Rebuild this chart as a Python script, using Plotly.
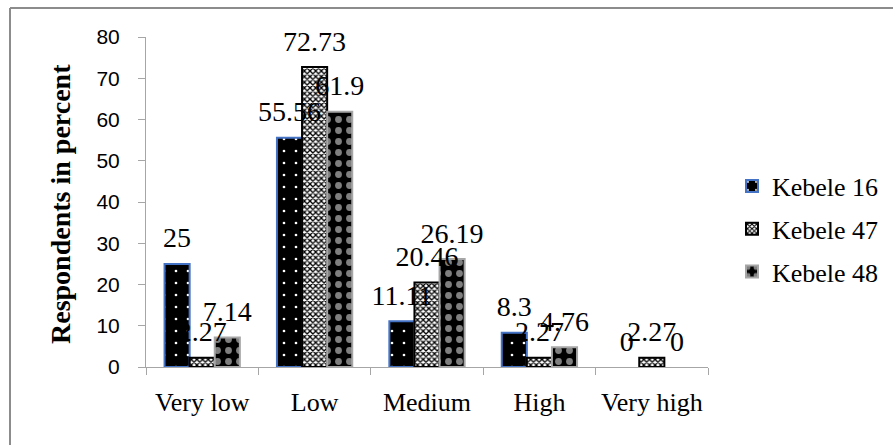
import plotly.graph_objects as go

# Survey categories and the share of respondents (%) in each kebele
categories = ["Very low", "Low", "Medium", "High", "Very high"]
kebele_16 = [25, 55.56, 11.11, 8.3, 0]
kebele_47 = [2.27, 72.73, 20.46, 2.27, 2.27]
kebele_48 = [7.14, 61.9, 26.19, 4.76, 0]
series_names = ["Kebele 16", "Kebele 47", "Kebele 48"]
y_ticks = [0, 10, 20, 30, 40, 50, 60, 70, 80]

SERIF = "Liberation Serif"
SANS = "Liberation Sans"

W, H = 893, 445
L, R, T, B = 146, 185, 37, 78
LABEL_LIFT = 1.8  # gap between bar top and its value label (axis units)

outline_colors = ["#4472c4", "black", "#a6a6a6"]
patterns = [
    dict(shape=".", fgcolor="white", bgcolor="black", size=12, solidity=0.04, fillmode="replace"),
    dict(shape="x", fgcolor="black", bgcolor="white", size=4, solidity=0.55, fillmode="replace"),
    dict(shape=".", fgcolor="#7f7f7f", bgcolor="black", size=11, solidity=0.3, fillmode="replace"),
]
fills = ["black", "white", "black"]
series = [kebele_16, kebele_47, kebele_48]

fig = go.Figure()

for i, (name, vals) in enumerate(zip(series_names, series)):
    fig.add_trace(go.Bar(
        x=categories, y=vals, name=name, offsetgroup=str(i),
        marker=dict(color=fills[i], pattern=patterns[i],
                    line=dict(color=outline_colors[i],
                              width=[2 if v > 0 else 0 for v in vals])),
        cliponaxis=False, legendgroup=name,
    ))

# value labels on top of all bars
for i, (name, vals) in enumerate(zip(series_names, series)):
    fig.add_trace(go.Bar(
        x=categories, y=vals, base=[LABEL_LIFT] * len(vals),
        offsetgroup=str(i), showlegend=False, hoverinfo="skip",
        marker=dict(color="rgba(0,0,0,0)", line=dict(width=0)),
        text=[f"{v:g}" for v in vals],
        textposition="outside", constraintext="none", cliponaxis=False,
        textfont=dict(family=SERIF, size=28, color="black"),
    ))

# y-axis title as rotated bold text
fig.add_annotation(
    text="<b>Respondents in percent</b>", textangle=-90,
    xref="paper", yref="paper", x=(60 - L) / (W - L - R), y=(H - B - 204) / (H - T - B),
    xanchor="center", yanchor="middle", showarrow=False,
    font=dict(family=SERIF, size=28, color="black"),
)

# outer frame (left and top edges visible)
fx = (10 - L) / (W - L - R)
fy = (H - B - 8) / (H - T - B)
fig.add_shape(type="line", xref="paper", yref="paper",
              x0=fx, x1=fx, y0=fy, y1=(H - B - H - 5) / (H - T - B),
              line=dict(color="#8c8c8c", width=2))
fig.add_shape(type="line", xref="paper", yref="paper",
              x0=fx, x1=(W + 5 - L) / (W - L - R), y0=fy, y1=fy,
              line=dict(color="#8c8c8c", width=2))

fig.update_layout(
    width=W, height=H,
    margin=dict(l=L, r=R, t=T, b=B, autoexpand=False),
    paper_bgcolor="white", plot_bgcolor="white",
    barmode="group", bargap=0.33, bargroupgap=0,
    showlegend=True,
    legend=dict(x=(732 - L) / (W - L - R), y=(H - B - 229) / (H - T - B),
                xanchor="left", yanchor="middle",
                font=dict(family=SERIF, size=26, color="black"),
                tracegroupgap=6, itemwidth=30, bgcolor="rgba(0,0,0,0)"),
    xaxis=dict(
        type="category", tickson="boundaries", ticks="outside", ticklen=7,
        tickcolor="#a6a6a6", showline=True, linecolor="#a6a6a6", linewidth=1,
        showgrid=False, tickfont=dict(family=SERIF, size=26, color="black"),
        ticklabelstandoff=12,
    ),
    yaxis=dict(
        range=[0, 80], tickvals=y_ticks, ticks="outside", ticklen=7,
        tickcolor="#a6a6a6", showline=True, linecolor="#a6a6a6", linewidth=1,
        showgrid=False, zeroline=False,
        tickfont=dict(family=SANS, size=21, color="black"),
        ticklabelstandoff=14,
    ),
)

fig.write_html("out.html")
